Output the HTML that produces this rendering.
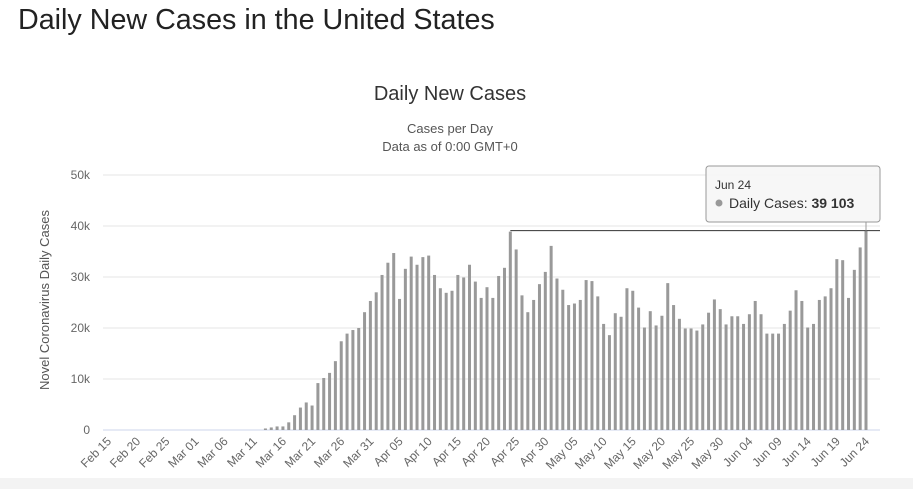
<!DOCTYPE html>
<html><head><meta charset="utf-8"><style>
body{margin:0;width:913px;height:489px;background:#fff;overflow:hidden;font-family:"Liberation Sans",sans-serif;}
svg text{font-family:"Liberation Sans",sans-serif;}
</style></head><body>
<svg id="c" width="913" height="489">
<rect x="0" y="478" width="913" height="11" fill="#f3f3f3"/>
<text x="18" y="29" font-size="28.7" fill="#222">Daily New Cases in the United States</text>
<text x="450" y="100" font-size="20" fill="#333" text-anchor="middle">Daily New Cases</text>
<text x="450" y="133" font-size="13" fill="#555" text-anchor="middle">Cases per Day</text>
<text x="450" y="151" font-size="13" fill="#555" text-anchor="middle">Data as of 0:00 GMT+0</text>
<text transform="translate(49,300) rotate(-90)" font-size="13" fill="#555" text-anchor="middle">Novel Coronavirus Daily Cases</text>
<g id="grid"></g><g id="bars"></g><g id="xl"></g>
</svg>
<script>
const startIndex = 27;
const values = [0.3,0.5,0.7,0.7,1.5,2.9,4.4,5.4,4.8,9.2,10.2,11.2,13.5,17.4,18.9,19.6,20.0,23.1,25.3,27.0,30.4,32.8,34.7,25.7,31.6,34.0,32.4,33.9,34.2,30.4,27.8,26.9,27.3,30.4,29.9,32.4,29.1,
25.9,28.0,25.9,30.2,31.8,38.9,35.4,26.4,23.1,25.5,28.6,31.0,36.1,29.7,27.5,24.5,24.8,25.5,29.4,29.2,26.2,20.8,18.6,22.9,22.2,27.8,27.3,24.0,20.1,23.3,20.5,22.4,28.8,24.5,21.8,
19.9,19.9,19.5,20.7,23.0,25.6,23.7,20.7,22.3,22.3,20.8,22.7,25.3,22.7,18.9,18.9,18.9,20.8,23.4,27.4,25.3,20.1,20.8,25.5,26.2,27.8,33.5,33.3,25.9,31.4,35.8,39.103];
const yTicks = [0,10,20,30,40,50];
const yTickLabels = ["0","10k","20k","30k","40k","50k"];
const xLabels = ["Feb 15","Feb 20","Feb 25","Mar 01","Mar 06","Mar 11","Mar 16","Mar 21","Mar 26","Mar 31","Apr 05","Apr 10","Apr 15","Apr 20","Apr 25","Apr 30","May 05","May 10","May 15","May 20","May 25","May 30","Jun 04","Jun 09","Jun 14","Jun 19","Jun 24"];
const NS="http://www.w3.org/2000/svg";
function X(i){return 108+i*(866-108)/130;}
function Y(v){return 430-v*5.1;}
function mk(t,a,p){const e=document.createElementNS(NS,t);for(const k in a)e.setAttribute(k,a[k]);p.appendChild(e);return e;}
const grid=document.getElementById('grid');
yTicks.forEach((t,k)=>{
  const l=mk('line',{x1:103,x2:880,y1:Y(t),y2:Y(t),stroke:k===0?'#ccd6eb':'#e6e6e6','stroke-width':1},grid);
  
  
  const tx=mk('text',{x:90,y:Y(t)+4,'font-size':12,fill:'#666','text-anchor':'end'},grid);
  tx.textContent=yTickLabels[k];
  
  
});
const bars=document.getElementById('bars');
values.forEach((v,j)=>{
  const i=startIndex+j;
  const r=mk('rect',{x:X(i)-1.5,y:Y(v),width:3,height:430-Y(v),fill:'#999'},bars);
  
  
});
const xl=document.getElementById('xl');
xLabels.forEach((s,k)=>{
  const x=X(k*5);
  const t=mk('text',{transform:`translate(${x+4},${442}) rotate(-45)`,'font-size':12,fill:'#666','text-anchor':'end'},xl);
  t.textContent=s;
  
  
});
const last=values[values.length-1], li=startIndex+values.length-1;
const peakY=Y(last);
const svg=document.getElementById('c');
const ch=mk('line',{x1:X(69),x2:880,y1:peakY,y2:peakY,stroke:'#333','stroke-width':1},svg);


const vl=mk('line',{x1:X(li),x2:X(li),y1:peakY,y2:222,stroke:'#999','stroke-width':1},svg);


const tip=mk('g',{},svg);


mk('rect',{x:706,y:166,width:174,height:56,rx:3,fill:'rgba(247,247,247,0.95)',stroke:'#999','stroke-width':1},tip);
const t1=mk('text',{x:715,y:189,'font-size':12,fill:'#333'},tip);t1.textContent='Jun 24';
mk('circle',{cx:719,cy:203,r:3.5,fill:'#999'},tip);
const t2=mk('text',{x:729,y:208,'font-size':14,fill:'#333'},tip);
t2.innerHTML='Daily Cases: <tspan font-weight="bold">39 103</tspan>';
</script>
</body></html>
